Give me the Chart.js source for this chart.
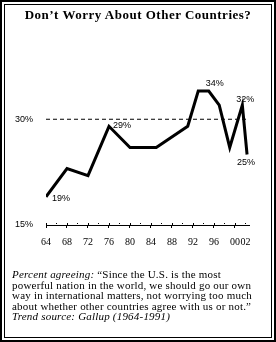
<!DOCTYPE html>
<html>
<head>
<meta charset="utf-8">
<script src="https://cdn.jsdelivr.net/npm/chart.js@4/dist/chart.umd.min.js"></script>
<style>
  html,body{margin:0;padding:0;background:#fff;}
  #wrap{position:relative;width:276px;height:342px;overflow:hidden;background:#fff;}
  #c{position:absolute;left:0;top:0;}
  .outer{position:absolute;left:0;top:0;width:276px;height:342px;box-sizing:border-box;border:2px solid #000;pointer-events:none;}
  .inner{position:absolute;left:4px;top:4px;width:268px;height:334px;box-sizing:border-box;border:1px solid #000;pointer-events:none;}
  .title{position:absolute;left:0;top:7px;width:276px;text-align:center;font:bold 13px "Liberation Serif",serif;color:#000;letter-spacing:0.5px;}
  .cap{position:absolute;left:12px;top:269px;width:262px;font:11px/10.5px "Liberation Serif",serif;color:#000;white-space:nowrap;letter-spacing:0.2px;}
</style>
</head>
<body>
<div id="wrap">
  <canvas id="c" width="276" height="342"></canvas>
  <div class="title">Don’t Worry About Other Countries?</div>
  <div class="cap"><i>Percent agreeing:</i> “Since the U.S. is the most<br>powerful nation in the world, we should go our own<br>way in international matters, not worrying too much<br>about whether other countries agree with us or not.”<br><i>Trend source: Gallup (1964-1991)</i></div>
  <div class="outer"></div>
  <div class="inner"></div>
</div>
<script>
// Data
const years  = [1964, 1968, 1972, 1976, 1980, 1985, 1991, 1993, 1995, 1997, 1999, 2001.4, 2002.3];
const values = [19, 23, 22, 29, 26, 26, 29, 34, 34, 32, 26, 32, 25];
const refLevel = 30;
const yTicks = [15, 30];
const xTicks = [1964,1966,1968,1970,1972,1974,1976,1978,1980,1982,1984,1986,1988,1990,1992,1994,1996,1998,2000,2002];
const xLabelYears = [1964,1968,1972,1976,1980,1984,1988,1992,1996,2000,2002];
const pointLabels = [
  {i: 0,  text: '19%', dx: 6,  dy: 2,  align: 'left'},
  {i: 3,  text: '29%', dx: 4,  dy: -1, align: 'left'},
  {i: 8,  text: '34%', dx: 6,  dy: -8, align: 'center'},
  {i: 11, text: '32%', dx: 3,  dy: -6, align: 'center'},
  {i: 12, text: '25%', dx: -1, dy: 8,  align: 'center'}
];
const X_MIN = 1964, X_MAX = 2002.67;

const lineData = years.map((y, k) => ({x: y, y: values[k]}));
const refData = [{x: X_MIN, y: refLevel}, {x: X_MAX, y: refLevel}];

const axisExtras = {
  id: 'axisExtras',
  afterDraw(chart) {
    const ctx = chart.ctx, xs = chart.scales.x;
    const yb = xs.top;
    ctx.save();
    ctx.fillStyle = '#000';
    xTicks.forEach(v => {
      const px = Math.round(xs.getPixelForValue(v));
      const major = ((v - 1964) % 4 === 0);
      if (major) ctx.fillRect(px, yb - 2, 1, 2);
      else ctx.fillRect(px, yb - 2, 1, 1);
    });
    ctx.font = '9px "Liberation Sans", sans-serif';
    ctx.textBaseline = 'middle';
    const meta = chart.getDatasetMeta(0);
    pointLabels.forEach(l => {
      const p = meta.data[l.i];
      ctx.textAlign = l.align;
      ctx.fillText(l.text, p.x + l.dx, p.y + l.dy);
    });
    ctx.restore();
  }
};

new Chart(document.getElementById('c'), {
  type: 'line',
  data: {
    datasets: [
      {data: lineData, borderColor: '#000', borderWidth: 3, pointRadius: 0, tension: 0, fill: false},
      {data: refData, borderColor: '#000', borderWidth: 1, borderDash: [4, 3], pointRadius: 0, fill: false}
    ]
  },
  options: {
    responsive: false,
    devicePixelRatio: 1,
    animation: false,
    events: [],
    layout: {padding: {left: 0, right: 27, top: 84, bottom: 92}},
    plugins: {legend: {display: false}, title: {display: false}, tooltip: {enabled: false}},
    scales: {
      x: {
        type: 'linear', min: X_MIN, max: X_MAX, offset: false,
        afterBuildTicks: s => { s.ticks = xTicks.map(v => ({value: v})); },
        afterFit: s => { s.height = 25; },
        border: {display: true, color: '#000', width: 1},
        grid: {
          drawOnChartArea: false, drawTicks: true, tickLength: 3,
          color: c => (c.tick && (c.tick.value - 1964) % 4 === 0) ? '#000' : 'rgba(0,0,0,0)'
        },
        ticks: {
          autoSkip: false, maxRotation: 0, minRotation: 0, padding: 8, color: '#000',
          font: {family: '"Liberation Serif", serif', size: 10},
          callback: v => xLabelYears.includes(v) ? String(v).slice(2) : ''
        }
      },
      y: {
        type: 'linear', min: 15, max: 35,
        afterBuildTicks: s => { s.ticks = yTicks.map(v => ({value: v})); },
        afterFit: s => { s.width = 46; },
        border: {display: false},
        grid: {display: false, drawTicks: false},
        ticks: {
          padding: 13, color: '#000',
          font: {family: '"Liberation Sans", sans-serif', size: 9},
          callback: v => v + '%'
        }
      }
    }
  },
  plugins: [axisExtras]
});
</script>
</body>
</html>
